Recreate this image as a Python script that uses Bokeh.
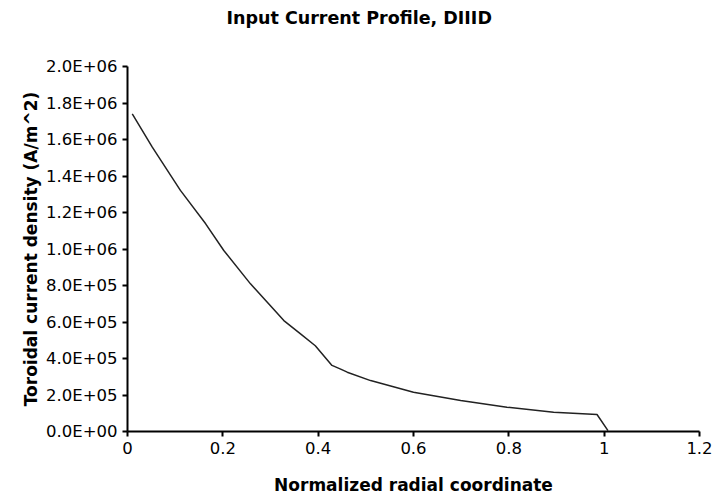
from bokeh.plotting import figure
from bokeh.models import Range1d, CustomJSTickFormatter, FixedTicker, Title
from bokeh.embed import file_html
from bokeh.resources import INLINE

# Data
radius = [0.010, 0.052, 0.111, 0.164, 0.202, 0.258, 0.328, 0.363, 0.394, 0.429,
          0.446, 0.461, 0.51, 0.6, 0.699, 0.796, 0.894, 0.985, 1.008]
current_density = [1.741e6, 1.558e6, 1.321e6, 1.138e6, 0.992e6, 0.809e6, 0.608e6,
                   0.535e6, 0.470e6, 0.362e6, 0.343e6, 0.325e6, 0.279e6, 0.215e6,
                   0.170e6, 0.133e6, 0.106e6, 0.093e6, 0.005e6]
x_ticks = [0, 0.2, 0.4, 0.6, 0.8, 1.0, 1.2]
y_ticks = [0, 2e5, 4e5, 6e5, 8e5, 1e6, 1.2e6, 1.4e6, 1.6e6, 1.8e6, 2e6]
title_text = "Input Current Profile, DIIID"

FONT = "DejaVu Sans"

p = figure(frame_width=572, frame_height=365,
           min_border_left=127, min_border_top=66, min_border_right=18, min_border_bottom=73,
           x_range=Range1d(0, 1.2), y_range=Range1d(0, 2e6),
           output_backend="svg", toolbar_location=None)

# spacer panel next to the frame, then the real title above it
p.add_layout(Title(text=" ", text_font_size="10px", standoff=26), "above")
p.add_layout(Title(text=title_text, text_font=FONT, text_font_size="17.5px",
                   text_font_style="bold", text_color="black",
                   align="left", offset=99, standoff=0), "above")

p.line(radius, current_density, line_color="#222222", line_width=1.5)

p.grid.visible = False
p.outline_line_color = None
p.background_fill_color = "white"
p.border_fill_color = "white"

p.xaxis.ticker = FixedTicker(ticks=x_ticks)
p.yaxis.ticker = FixedTicker(ticks=y_ticks)
p.xaxis.formatter = CustomJSTickFormatter(code="return String(Math.round(tick*10)/10);")
p.yaxis.formatter = CustomJSTickFormatter(code="""
let s = tick.toExponential(1).toUpperCase();
return s.replace(/E([+-])(\\d)$/, 'E$10$2');
""")

for ax in (p.xaxis[0], p.yaxis[0]):
    ax.axis_line_width = 2
    ax.axis_line_color = "black"
    ax.major_tick_line_color = "black"
    ax.major_tick_line_width = 2
    ax.major_tick_out = 5
    ax.major_tick_in = 0
    ax.minor_tick_line_color = None
    ax.major_label_text_font = FONT
    ax.major_label_text_font_size = "16.5px"
    ax.major_label_text_color = "black"
    ax.axis_label_text_font = FONT
    ax.axis_label_text_font_size = "17px"
    ax.axis_label_text_font_style = "bold"
    ax.axis_label_text_color = "black"

p.xaxis.axis_label = "Normalized radial coordinate"
p.yaxis.axis_label = "Toroidal current density (A/m^2)"
p.xaxis.major_label_standoff = 5
p.xaxis.axis_label_standoff = 18
p.yaxis.major_label_standoff = 5
p.yaxis.axis_label_standoff = 2

open("out.html", "w").write(file_html(p, INLINE))
